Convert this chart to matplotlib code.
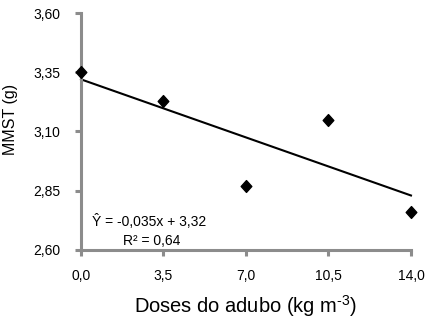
import matplotlib
matplotlib.use("Agg")
import matplotlib.pyplot as plt
from matplotlib.path import Path
import numpy as np

plt.rcParams['font.family'] = ['Liberation Sans', 'DejaVu Sans']
plt.rcParams['mathtext.fontset'] = 'custom'
plt.rcParams['mathtext.rm'] = 'Liberation Sans'
plt.rcParams['mathtext.it'] = 'Liberation Sans'

doses = [0.0, 3.5, 7.0, 10.5, 14.0]
mmst = [3.35, 3.23, 2.87, 3.15, 2.76]
slope, intercept = -0.035, 3.32
xticks = [0.0, 3.5, 7.0, 10.5, 14.0]
xticklabels = ['0,0', '3,5', '7,0', '10,5', '14,0']
yticks = [2.60, 2.85, 3.10, 3.35, 3.60]
yticklabels = ['2,60', '2,85', '3,10', '3,35', '3,60']

fig = plt.figure(figsize=(4.25, 3.21), dpi=100)
ax = fig.add_axes([0.1906, 0.2212, 0.7764, 0.7383])

diamond = Path([(0, 1), (0.9, 0), (0, -1), (-0.9, 0), (0, 1)],
               [Path.MOVETO, Path.LINETO, Path.LINETO, Path.LINETO, Path.CLOSEPOLY])

xs = np.array([doses[0], doses[-1]])
ax.plot(xs, intercept + slope * xs, color='black', lw=1.5, clip_on=False, zorder=2)
ax.plot(doses, mmst, linestyle='none', marker=diamond, ms=8.5, color='black',
        clip_on=False, zorder=3)

ax.set_xlim(0, 14)
ax.set_ylim(2.6, 3.6)
ax.set_xticks(xticks)
ax.set_xticklabels(xticklabels)
ax.set_yticks(yticks)
ax.set_yticklabels(yticklabels)

for s in ['top', 'right']:
    ax.spines[s].set_visible(False)
for s in ['left', 'bottom']:
    ax.spines[s].set_color('#8c8c8c')
    ax.spines[s].set_linewidth(2.2)
ax.tick_params(axis='both', colors='#8c8c8c', width=2.2, length=4,
               labelsize=10, labelcolor='black')
ax.tick_params(axis='x', pad=10)
ax.tick_params(axis='y', pad=11)

ax.set_ylabel('MMST (g)', fontsize=11.5)
ax.yaxis.set_label_coords(-0.19, 0.55)
ax.set_xlabel('Doses do adubo (kg m$^{\\text{-3}}$)', fontsize=14.5)
ax.xaxis.set_label_coords(0.5, -0.18)

ax.text(0.47, 2.722, 'Ŷ = -0,035x + 3,32', fontsize=10, ha='left', va='center')
ax.text(3.01, 2.64, 'R² = 0,64', fontsize=10, ha='center', va='center')

fig.savefig('out.png', dpi=100)
